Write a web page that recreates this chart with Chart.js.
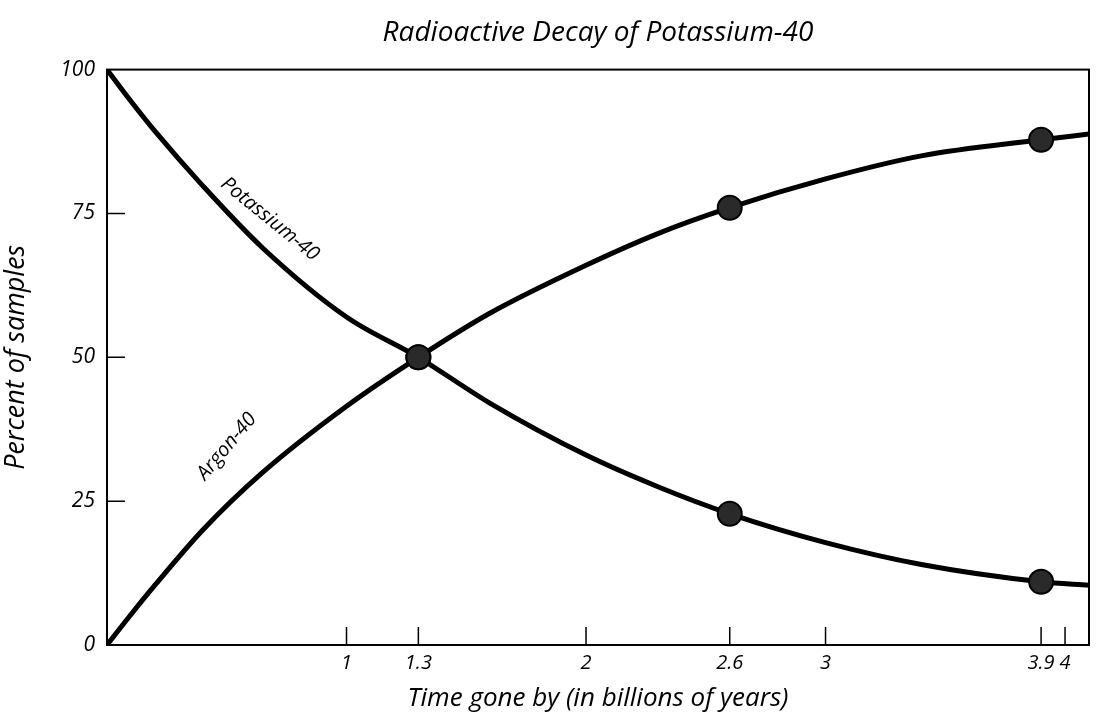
<!DOCTYPE html>
<html>
<head>
<meta charset="utf-8">
<script src="https://cdn.jsdelivr.net/npm/chart.js@4.4.1/dist/chart.umd.min.js"></script>
<style>
  html, body { margin: 0; padding: 0; background: #fff; }
  #wrap { width: 1107px; height: 714px; }
</style>
</head>
<body>
<div id="wrap"><canvas id="decayChart" width="1107" height="714"></canvas></div>
<script>
// Data
const timeVals = [0, 0.1, 0.2, 0.4, 0.65, 1.0, 1.3, 1.6, 2.0, 2.3, 2.6, 3.0, 3.4, 3.9, 4.1];
const potassiumVals = [100, 94.5, 89.3, 79.8, 69, 57, 50, 42, 33, 27.5, 22.8, 17.8, 14, 11, 10.4];
const argonVals = [0, 5.3, 10.4, 20, 30, 41.5, 50, 57.7, 66, 71.5, 76, 81, 85, 87.8, 88.8];
const markerTimes = [1.3, 2.6, 3.9];
const xTickVals = [1, 1.3, 2, 2.6, 3, 3.9, 4];
const yTickVals = [0, 25, 50, 75, 100];

const FONT = '"Open Sans", "Noto Sans", sans-serif';

function toPoints(xs, ys) {
    return xs.map((x, i) => ({ x: x, y: ys[i] }));
}

// big dots only at the half-life times
function markerRadius(c) {
    return c.raw && markerTimes.includes(c.raw.x) ? 12 : 0;
}

// Box around the plot, inward ticks and curve labels
const decorPlugin = {
    id: 'decor',
    afterDatasetsDraw(chart) {
        const ctx = chart.ctx;
        const area = chart.chartArea;
        const xs = chart.scales.x;
        const ys = chart.scales.y;
        ctx.save();
        ctx.strokeStyle = '#000';
        ctx.lineWidth = 2;
        ctx.strokeRect(area.left, area.top, area.right - area.left, area.bottom - area.top);

        // inward ticks
        ctx.lineWidth = 1.5;
        ctx.beginPath();
        xTickVals.forEach(v => {
            const px = xs.getPixelForValue(v);
            ctx.moveTo(px, area.bottom);
            ctx.lineTo(px, area.bottom - 18);
        });
        [25, 50, 75].forEach(v => {
            const py = ys.getPixelForValue(v);
            ctx.moveTo(area.left, py);
            ctx.lineTo(area.left + 18, py);
        });
        ctx.stroke();

        // curve labels
        ctx.fillStyle = '#000';
        ctx.font = 'italic 20px ' + FONT;
        ctx.textAlign = 'center';
        ctx.textBaseline = 'middle';
        ctx.save();
        ctx.translate(xs.getPixelForValue(0.68), ys.getPixelForValue(74));
        ctx.rotate(39 * Math.PI / 180);
        ctx.fillText('Potassium-40', 0, 0);
        ctx.restore();
        ctx.save();
        ctx.translate(xs.getPixelForValue(0.5), ys.getPixelForValue(34.5));
        ctx.rotate(-50 * Math.PI / 180);
        ctx.fillText('Argon-40', 0, 0);
        ctx.restore();
        ctx.restore();
    }
};

const ctx = document.getElementById('decayChart').getContext('2d');
const decayChart = new Chart(ctx, {
    type: 'line',
    data: {
        datasets: [{
            label: 'Potassium-40',
            data: toPoints(timeVals, potassiumVals),
            borderColor: '#000',
            borderWidth: 5,
            pointRadius: markerRadius,
            pointBackgroundColor: '#2a2a2a',
            pointBorderColor: '#000',
            pointBorderWidth: 2,
            cubicInterpolationMode: 'monotone',
            fill: false
        }, {
            label: 'Argon-40',
            data: toPoints(timeVals, argonVals),
            borderColor: '#000',
            borderWidth: 5,
            pointRadius: markerRadius,
            pointBackgroundColor: '#2a2a2a',
            pointBorderColor: '#000',
            pointBorderWidth: 2,
            cubicInterpolationMode: 'monotone',
            fill: false
        }]
    },
    options: {
        responsive: false,
        animation: false,
        layout: {
            padding: { left: 0, right: 18, top: 0, bottom: 0 }
        },
        plugins: {
            legend: { display: false },
            tooltip: { enabled: false },
            title: {
                display: true,
                fullSize: false,
                text: 'Radioactive Decay of Potassium-40',
                color: '#000',
                font: { family: FONT, size: 28, style: 'italic', weight: 'normal' },
                padding: { top: 16, bottom: 20 }
            }
        },
        scales: {
            x: {
                type: 'linear',
                min: 0,
                max: 4.1,
                afterBuildTicks: function(scale) {
                    scale.ticks = xTickVals.map(v => ({ value: v }));
                },
                afterFit: function(scale) {
                    scale.height = 69;
                },
                grid: { display: false, drawTicks: false },
                border: { display: false },
                ticks: {
                    color: '#000',
                    padding: 6,
                    maxRotation: 0,
                    autoSkip: false,
                    font: { family: FONT, size: 20, style: 'italic' },
                    callback: v => String(v)
                },
                title: {
                    display: true,
                    text: 'Time gone by (in billions of years)',
                    color: '#000',
                    font: { family: FONT, size: 26, style: 'italic' },
                    padding: { top: 2, bottom: 0 }
                }
            },
            y: {
                min: 0,
                max: 100,
                afterBuildTicks: function(scale) {
                    scale.ticks = yTickVals.map(v => ({ value: v }));
                },
                afterFit: function(scale) {
                    scale.width = 107;
                },
                grid: { display: false, drawTicks: false },
                border: { display: false },
                ticks: {
                    color: '#000',
                    padding: 12,
                    font: { family: FONT, size: 21, style: 'italic' }
                },
                title: {
                    display: true,
                    text: 'Percent of samples',
                    color: '#000',
                    font: { family: FONT, size: 27, style: 'italic' },
                    padding: { top: 0, bottom: 6 }
                }
            }
        }
    },
    plugins: [decorPlugin]
});
</script>
</body>
</html>
